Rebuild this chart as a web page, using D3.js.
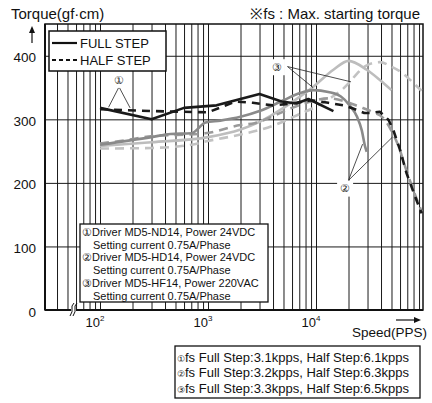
<!DOCTYPE html>
<html>
<head>
<meta charset="utf-8">
<script src="https://cdn.jsdelivr.net/npm/d3@7"></script>
<style>
  body { margin: 0; background: #fff; }
  svg { display: block; font-family: "Liberation Sans", Arial, sans-serif; }
</style>
</head>
<body>
<div id="chart"></div>
<script>
// speed (pps) / torque (gf-cm)
const speedLabels = [100, 1000, 10000];
const torqueTicks = [0, 100, 200, 300, 400];

const fullStep1 = [[100, 318], [300, 300], [600, 318], [1200, 322], [3000, 340], [4800, 328], [6600, 325], [8500, 332], [14500, 313]];
const halfStep1 = [[100, 316], [300, 313], [1000, 311], [1800, 328], [2600, 326], [4000, 322], [6000, 325], [9000, 330], [13000, 326], [18000, 322], [22000, 317], [28000, 310], [32000, 310], [39000, 312], [47000, 299], [52000, 283], [60000, 252], [69000, 215], [83000, 178], [95000, 152]];

const fullStep2 = [[100, 260], [300, 272], [450, 277], [700, 278], [950, 295], [1300, 298], [2000, 304], [3000, 313], [5000, 330], [7000, 341], [9500, 346], [13000, 343], [17000, 336], [20500, 322], [24000, 304], [26500, 283], [28500, 257], [29500, 249]];
const halfStep2 = [[100, 262], [170, 267], [280, 273], [940, 278], [2000, 291], [2700, 294], [4000, 305], [6000, 318], [9000, 328], [13000, 333], [18000, 329], [25000, 320], [33000, 312], [42000, 302], [50000, 282], [58000, 258], [68000, 222], [80000, 188], [95000, 155]];

const fullStep3 = [[100, 258], [300, 264], [1000, 272], [2000, 284], [3000, 296], [5000, 318], [7000, 335], [9400, 351], [14500, 378], [20000, 392], [29500, 378], [39000, 362], [50000, 346]];
const halfStep3 = [[100, 254], [300, 255], [700, 260], [1000, 266], [2000, 276], [4000, 290], [7000, 308], [10000, 320], [14000, 335], [17000, 345], [20600, 359], [24000, 372], [29500, 385], [39000, 390], [50000, 383], [64000, 372], [80000, 357], [95000, 345]];

const legendNames = ["FULL STEP", "HALF STEP"];
const driverNotes = [
  "\u2460Driver MD5-ND14, Power 24VDC", "Setting current 0.75A/Phase",
  "\u2461Driver MD5-HD14, Power 24VDC", "Setting current 0.75A/Phase",
  "\u2462Driver MD5-HF14, Power 220VAC", "Setting current 0.75A/Phase"
];
const fsMarks = ["\u2460", "\u2461", "\u2462"];
const fsNotes = [
  "fs Full Step:3.1kpps, Half Step:6.1kpps",
  "fs Full Step:3.2kpps, Half Step:6.3kpps",
  "fs Full Step:3.3kpps, Half Step:6.5kpps"
];

const width = 432;
const height = 403;
const plot = { left: 45, right: 423, top: 24, bottom: 310 };

const svg = d3.select("#chart")
  .append("svg")
  .attr("width", width)
  .attr("height", height);

const x = d3.scaleLog()
  .domain([100, 100000])
  .range([100, 424]);

const y = d3.scaleLinear()
  .domain([0, 450])
  .range([plot.bottom, plot.top]);

// minor log grid, every 1..9 of each decade that fits in the frame
const gridSpeeds = [];
for (let e = 1; e <= 4; e++) {
  for (let k = 1; k <= 9; k++) gridSpeeds.push(k * Math.pow(10, e));
}
const visibleSpeeds = gridSpeeds.filter(v => x(v) > plot.left + 2 && x(v) < plot.right - 2);

const vGrid = svg.append("g")
  .attr("transform", `translate(0,${plot.bottom})`)
  .call(d3.axisBottom(x).tickValues(visibleSpeeds).tickSize(-(plot.bottom - plot.top)).tickSizeOuter(0).tickFormat(""));
vGrid.select(".domain").remove();
vGrid.selectAll("line").attr("stroke", "#1a1a1a").attr("stroke-width", 1);

const hGrid = svg.append("g")
  .attr("transform", `translate(${plot.left},0)`)
  .call(d3.axisLeft(y).tickValues(torqueTicks.filter(t => t > 0)).tickSize(-(plot.right - plot.left)).tickFormat(""));
hGrid.select(".domain").remove();
hGrid.selectAll("line").attr("stroke", "#1a1a1a").attr("stroke-width", 1);

// frame
svg.append("rect")
  .attr("x", plot.left).attr("y", plot.top)
  .attr("width", plot.right - plot.left).attr("height", plot.bottom - plot.top)
  .attr("fill", "none").attr("stroke", "#111").attr("stroke-width", 1.5);
svg.append("line")
  .attr("x1", plot.left).attr("x2", plot.right)
  .attr("y1", plot.bottom).attr("y2", plot.bottom)
  .attr("stroke", "#111").attr("stroke-width", 2);
svg.append("line")
  .attr("x1", plot.left).attr("x2", plot.left)
  .attr("y1", plot.top).attr("y2", plot.bottom)
  .attr("stroke", "#111").attr("stroke-width", 2);

// axis break
svg.append("rect").attr("x", 71).attr("y", 306).attr("width", 5).attr("height", 8).attr("fill", "#fff");
[0, 3].forEach(dx => {
  svg.append("path")
    .attr("d", `M${70 + dx},316 Q${73 + dx},311 ${72 + dx},309 Q${71 + dx},306 ${74 + dx},303`)
    .attr("fill", "none").attr("stroke", "#111").attr("stroke-width", 1);
});

// y labels
const yAxis = svg.append("g")
  .attr("transform", `translate(${plot.left},0)`)
  .call(d3.axisLeft(y).tickValues(torqueTicks).tickSize(0).tickPadding(9));
yAxis.select(".domain").remove();
yAxis.selectAll("text")
  .attr("dy", "0.45em")
  .attr("font-family", "Liberation Sans, Arial, sans-serif")
  .attr("font-size", 13.5)
  .attr("fill", "#111");

// x labels 10^n
svg.selectAll(".xlab")
  .data(speedLabels)
  .join("text")
  .attr("class", "xlab")
  .attr("x", d => x(d) - 5)
  .attr("y", 327)
  .attr("text-anchor", "middle")
  .attr("font-size", 13)
  .attr("fill", "#111")
  .text("10")
  .append("tspan")
  .attr("dy", -6)
  .attr("font-size", 8)
  .text(d => Math.round(Math.log10(d)));

// curves
svg.append("clipPath").attr("id", "clip")
  .append("rect")
  .attr("x", plot.left).attr("y", plot.top)
  .attr("width", plot.right - plot.left).attr("height", plot.bottom - plot.top);

const smooth = d3.line().x(d => x(d[0])).y(d => y(d[1])).curve(d3.curveMonotoneX);
const straight = d3.line().x(d => x(d[0])).y(d => y(d[1]));

const curves = [
  { data: halfStep3, path: smooth, color: "#c2c2c2", dash: "9,6" },
  { data: fullStep3, path: smooth, color: "#bdbdbd", dash: null },
  { data: halfStep2, path: smooth, color: "#9a9a9a", dash: "9,6" },
  { data: fullStep2, path: smooth, color: "#8a8a8a", dash: null },
  { data: halfStep1, path: straight, color: "#1a1a1a", dash: "8,6" },
  { data: fullStep1, path: straight, color: "#1a1a1a", dash: null }
];

const curveG = svg.append("g").attr("clip-path", "url(#clip)");
curves.forEach(c => {
  curveG.append("path")
    .attr("d", c.path(c.data))
    .attr("fill", "none")
    .attr("stroke", c.color)
    .attr("stroke-width", 2.6)
    .attr("stroke-dasharray", c.dash)
    .attr("stroke-linejoin", "round");
});

// callouts (anchors in speed/torque units)
const callouts = [
  { mark: "\u2460", at: [150, 362], from: [150, 351], to: [[120, 319], [190, 318]] },
  { mark: "\u2462", at: [4350, 382], from: [5450, 383], to: [[9380, 350], [21100, 359]] },
  { mark: "\u2461", at: [18600, 191], from: [20000, 204], to: [[27000, 261], [51000, 272]] }
];
callouts.forEach(c => {
  c.to.forEach(t => {
    svg.append("line")
      .attr("x1", x(c.from[0])).attr("y1", y(c.from[1]))
      .attr("x2", x(t[0])).attr("y2", y(t[1]))
      .attr("stroke", "#222").attr("stroke-width", 0.8);
  });
  svg.append("rect")
    .attr("x", x(c.at[0]) - 8).attr("y", y(c.at[1]) - 8)
    .attr("width", 16).attr("height", 16)
    .attr("fill", "#fff");
  svg.append("text")
    .attr("x", x(c.at[0])).attr("y", y(c.at[1]))
    .attr("dy", "0.35em")
    .attr("text-anchor", "middle")
    .attr("font-size", 11)
    .attr("fill", "#222")
    .text(c.mark);
});

// legend
const legend = svg.append("g");
legend.append("rect")
  .attr("x", 49).attr("y", 31).attr("width", 117).attr("height", 40)
  .attr("fill", "#fff").attr("stroke", "#111").attr("stroke-width", 1.5);
legendNames.forEach((name, i) => {
  const ly = 43 + i * 17;
  legend.append("line")
    .attr("x1", 52).attr("x2", 77).attr("y1", ly).attr("y2", ly)
    .attr("stroke", "#111").attr("stroke-width", 2.2)
    .attr("stroke-dasharray", i === 1 ? "4,3" : null);
  legend.append("text")
    .attr("x", 80).attr("y", ly + 4.7)
    .attr("font-size", 13).attr("fill", "#111")
    .text(name);
});

// driver notes box
const notes = svg.append("g");
notes.append("rect")
  .attr("x", 80).attr("y", 224).attr("width", 188).attr("height", 78)
  .attr("fill", "#fff").attr("stroke", "#111").attr("stroke-width", 1.3);
driverNotes.forEach((t, i) => {
  notes.append("text")
    .attr("x", i % 2 === 0 ? 82 : 93)
    .attr("y", 236 + i * 12.7)
    .attr("font-size", 11).attr("fill", "#111")
    .text(t);
});

// y/x axis arrows and titles
svg.append("line").attr("x1", 32).attr("x2", 32).attr("y1", 43).attr("y2", 31)
  .attr("stroke", "#111").attr("stroke-width", 1.2);
svg.append("path").attr("d", "M32,26 L35,33 L29,33 Z").attr("fill", "#111");
svg.append("line").attr("x1", 396).attr("x2", 415).attr("y1", 320).attr("y2", 320)
  .attr("stroke", "#111").attr("stroke-width", 1.2);
svg.append("path").attr("d", "M421,320 L414,317 L414,323 Z").attr("fill", "#111");

svg.append("text").attr("x", 11).attr("y", 19)
  .attr("font-size", 15).attr("fill", "#111").text("Torque(gf\u00b7cm)");
svg.append("text").attr("x", 420).attr("y", 19).attr("text-anchor", "end")
  .attr("font-size", 15).attr("fill", "#111").text("\u203bfs : Max. starting torque");
svg.append("text").attr("x", 427).attr("y", 337).attr("text-anchor", "end")
  .attr("font-size", 13.5).attr("fill", "#111").text("Speed(PPS)");

// fs box
const fsBox = svg.append("g");
fsBox.append("rect")
  .attr("x", 175).attr("y", 346).attr("width", 245).attr("height", 52)
  .attr("fill", "#fff").attr("stroke", "#111").attr("stroke-width", 1.3);
fsNotes.forEach((t, i) => {
  const row = fsBox.append("text")
    .attr("x", 177).attr("y", 361.5 + i * 15.5)
    .attr("font-size", 13).attr("fill", "#111");
  row.append("tspan").attr("font-size", 9).text(fsMarks[i]);
  row.append("tspan").text(t);
});
</script>
</body>
</html>
